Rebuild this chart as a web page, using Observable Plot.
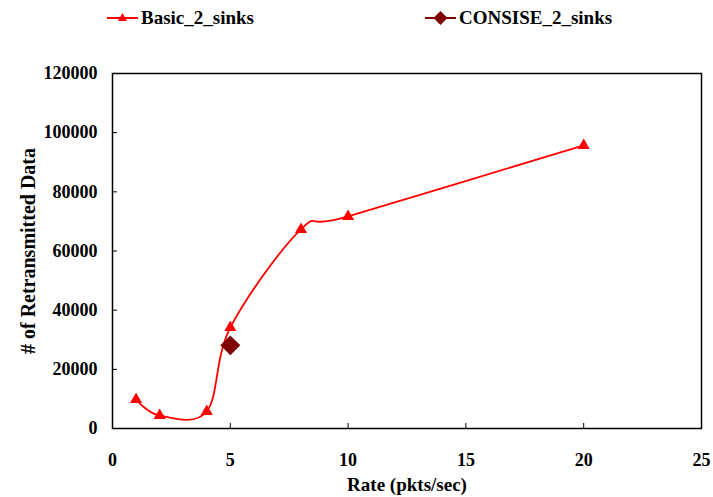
<!DOCTYPE html>
<html>
<head>
<meta charset="utf-8">
<script src="https://cdn.jsdelivr.net/npm/d3@7"></script>
<script src="https://cdn.jsdelivr.net/npm/@observablehq/plot@0.6"></script>
<style>
  html, body { margin: 0; padding: 0; background: #fff; }
  #wrap { position: relative; width: 713px; height: 497px; overflow: hidden; }
  #legend { position: relative; width: 713px; height: 36px; font-family: "Liberation Serif", "Times New Roman", serif; font-weight: bold; font-size: 19px; color: #000; }
  .item { position: absolute; top: 6px; height: 24px; display: flex; align-items: center; }
  .item svg { display: block; margin-right: 3px; }
</style>
</head>
<body>
<div id="wrap">
  <div id="legend"></div>
  <div id="chart"></div>
</div>
<script>
// Data
const seriesNames = ["Basic_2_sinks", "CONSISE_2_sinks"];
const basicRate = [1, 2, 4, 5, 8, 10, 20];
const basicRetx = [9800, 4400, 5750, 34100, 67300, 71700, 95700];
const consiseRate = [5];
const consiseRetx = [28100];
const xTicks = [0, 5, 10, 15, 20, 25];
const yTicks = [0, 20000, 40000, 60000, 80000, 100000, 120000];
const colors = ["#ff0000", "#800000"];

const basic = basicRate.map((x, i) => ({x, y: basicRetx[i]}));
const consise = consiseRate.map((x, i) => ({x, y: consiseRetx[i]}));

// Legend (HTML above the SVG)
const legend = document.getElementById("legend");
const legendItems = [
  {name: seriesNames[0], color: colors[0], left: 107, shape: "tri"},
  {name: seriesNames[1], color: colors[1], left: 425, shape: "dia"}
];
for (const it of legendItems) {
  const div = document.createElement("div");
  div.className = "item";
  div.style.left = it.left + "px";
  const ns = "http://www.w3.org/2000/svg";
  const s = document.createElementNS(ns, "svg");
  s.setAttribute("width", 31); s.setAttribute("height", 20);
  const ln = document.createElementNS(ns, "line");
  ln.setAttribute("x1", 0); ln.setAttribute("x2", 31); ln.setAttribute("y1", 10); ln.setAttribute("y2", 10);
  ln.setAttribute("stroke", it.color); ln.setAttribute("stroke-width", 2);
  s.appendChild(ln);
  const p = document.createElementNS(ns, "path");
  p.setAttribute("fill", it.color);
  p.setAttribute("d", it.shape === "tri" ? "M15.5,5 L20,13 L11,13 Z" : "M15.5,3 L22.5,10 L15.5,17 L8.5,10 Z");
  s.appendChild(p);
  div.appendChild(s);
  const t = document.createElement("span");
  t.textContent = it.name;
  div.appendChild(t);
  legend.appendChild(div);
}

const chart = Plot.plot({
  width: 713,
  height: 461,
  marginTop: 37,
  marginBottom: 69,
  marginLeft: 112,
  marginRight: 12,
  style: {fontFamily: "'Liberation Serif', 'Times New Roman', serif", fontWeight: "bold", fontSize: "18px", color: "#000", background: "#fff"},
  x: {domain: [0, 25]},
  y: {domain: [0, 120000]},
  marks: [
    Plot.frame({stroke: "#000", strokeWidth: 1.5}),
    Plot.axisX({ticks: xTicks, tickSize: -5, tickPadding: 30, tickFormat: d => String(d), label: null, fontSize: 18}),
    Plot.axisX({ticks: [], label: "Rate (pkts/sec)", labelAnchor: "center", labelOffset: 62, labelArrow: "none", fontSize: 19}),
    Plot.axisY({ticks: yTicks, tickSize: -5, tickPadding: 20, tickFormat: d => String(d), label: null, fontSize: 18}),
    Plot.axisY({ticks: [], label: "# of Retransmitted Data", labelAnchor: "center", labelOffset: 92, labelArrow: "none", fontSize: 20}),
    Plot.line(basic, {x: "x", y: "y", stroke: colors[0], strokeWidth: 1.8, curve: "cardinal", tension: 0}),
    Plot.dot(basic, {x: "x", y: "y", symbol: "triangle", r: 4.5, fill: colors[0], stroke: "none"}),
    Plot.dot(consise, {x: "x", y: "y", symbol: "diamond2", r: 9, fill: colors[1], stroke: "none"})
  ]
});
document.getElementById("chart").appendChild(chart);
</script>
</body>
</html>
